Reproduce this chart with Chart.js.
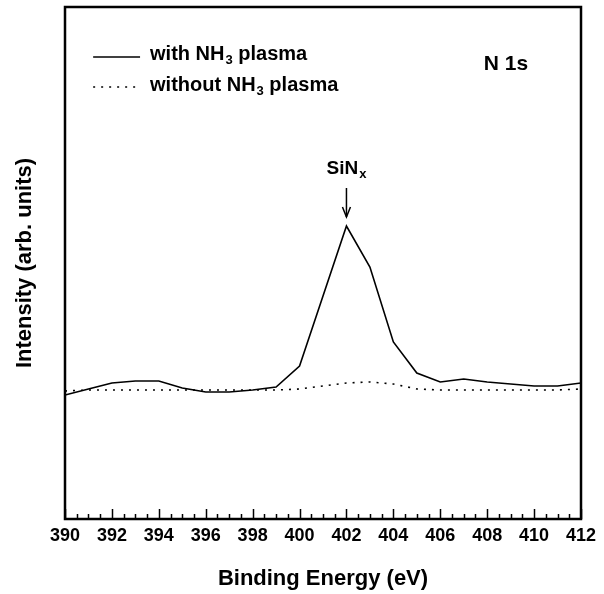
<!DOCTYPE html>
<html>
<head>
<meta charset="utf-8">
<script src="https://cdn.jsdelivr.net/npm/chart.js@4.4.1/dist/chart.umd.min.js"></script>
<style>
html,body{margin:0;padding:0;background:#fff;}
#wrap{width:604px;height:594px;}
</style>
</head>
<body>
<div id="wrap"><canvas id="c" width="604" height="594"></canvas></div>
<script>
// Data
const energies = [390,391,392,393,394,395,396,397,398,399,400,401,402,403,404,405,406,407,408,409,410,411,412];
const withNH3 = [124,130,136,138,138,131,127,127,129,132,153,223,293,252,177,146,137,140,137,135,133,133,136];
const withoutNH3 = [128,129,129,129,129,129,129,129,129,129,130,133,136,137,135,130,129,129,129,129,129,129,130];
const xTicks = [390,392,394,396,398,400,402,404,406,408,410,412];
const seriesNames = ['with NH', 'without NH'];
const FONT = "'Liberation Sans', Arial, sans-serif";

function pts(ys){ return energies.map((e,i)=>({x:e,y:ys[i]})); }

const overlay = {
  id:'overlay',
  afterDraw(chart){
    const {ctx, chartArea:a, scales:{x,y}} = chart;
    ctx.save();
    // frame
    ctx.strokeStyle='#000'; ctx.lineWidth=2.5;
    ctx.strokeRect(a.left, a.top, a.right-a.left, a.bottom-a.top);
    // inward ticks on bottom axis
    ctx.lineWidth=1.5;
    for(let v=390; v<=412.001; v+=0.5){
      const px = Math.round(x.getPixelForValue(v))+0.5;
      const major = Math.abs(v/2-Math.round(v/2))<1e-6;
      const len = major?10:5;
      ctx.beginPath(); ctx.moveTo(px,a.bottom); ctx.lineTo(px,a.bottom-len); ctx.stroke();
    }
    // legend
    ctx.fillStyle='#000';
    ctx.textBaseline='alphabetic';
    const lx0 = x.getPixelForValue(391.2), lx1 = x.getPixelForValue(393.2);
    const lineY = [y.getPixelForValue(519-57), y.getPixelForValue(519-87)];
    const baseY = [y.getPixelForValue(519-60), y.getPixelForValue(519-91)];
    for(let i=0;i<2;i++){
      ctx.beginPath();
      ctx.lineWidth=1.6;
      ctx.setLineDash(i===0?[]:[2,6]);
      ctx.moveTo(lx0,lineY[i]); ctx.lineTo(lx1,lineY[i]); ctx.stroke();
      ctx.setLineDash([]);
      let tx = lx1+10;
      const by = baseY[i];
      ctx.font = "bold 20px "+FONT;
      ctx.fillText(seriesNames[i], tx, by);
      tx += ctx.measureText(seriesNames[i]).width;
      ctx.font = "bold 13px "+FONT;
      ctx.fillText('3', tx+1, by+4);
      tx += ctx.measureText('3').width+1;
      ctx.font = "bold 20px "+FONT;
      ctx.fillText(' plasma', tx, by);
    }
    // N 1s
    ctx.textAlign='center';
    ctx.font = "bold 21px "+FONT;
    ctx.fillText('N 1s', x.getPixelForValue(408.8), y.getPixelForValue(519-70));
    // SiNx label
    const px = x.getPixelForValue(402);
    const peakY = y.getPixelForValue(293);
    ctx.textAlign='left';
    ctx.font = "bold 19px "+FONT;
    const w1 = ctx.measureText('SiN').width;
    ctx.font = "bold 13px "+FONT;
    const w2 = ctx.measureText('x').width;
    const sx = px - (w1+w2+1)/2;
    ctx.font = "bold 19px "+FONT;
    ctx.fillText('SiN', sx, peakY-52);
    ctx.font = "bold 13px "+FONT;
    ctx.fillText('x', sx+w1+1, peakY-48);
    // arrow
    ctx.lineWidth=1.5;
    ctx.beginPath(); ctx.moveTo(px, peakY-38); ctx.lineTo(px, peakY-9); ctx.stroke();
    ctx.beginPath(); ctx.moveTo(px-4, peakY-19); ctx.lineTo(px, peakY-9); ctx.lineTo(px+4, peakY-19); ctx.stroke();
    ctx.restore();
  }
};

new Chart(document.getElementById('c'), {
  type:'line',
  data:{
    datasets:[
      {label:'with NH3 plasma', data:pts(withNH3), borderColor:'#000', borderWidth:1.6, pointRadius:0, tension:0, fill:false},
      {label:'without NH3 plasma', data:pts(withoutNH3), borderColor:'#000', borderWidth:1.6, borderDash:[2,6], pointRadius:0, tension:0, fill:false}
    ]
  },
  options:{
    responsive:false, animation:false, devicePixelRatio:1,
    layout:{padding:{top:7,right:23,left:0,bottom:0}},
    plugins:{legend:{display:false}, tooltip:{enabled:false}},
    scales:{
      x:{
        type:'linear', min:390, max:412,
        afterBuildTicks(s){ s.ticks = xTicks.map(v=>({value:v})); },
        grid:{display:false, drawTicks:false},
        border:{display:false},
        ticks:{color:'#000', padding:6, maxRotation:0, autoSkip:false, font:{family:FONT, size:18, weight:'bold'}},
        title:{display:true, text:'Binding Energy (eV)', color:'#000', padding:{top:0,bottom:2}, font:{family:FONT, size:22, weight:'bold'}},
        afterFit(s){ s.height = 75; }
      },
      y:{
        min:0, max:512,
        grid:{display:false, drawTicks:false},
        border:{display:false},
        ticks:{display:false},
        title:{display:true, text:'Intensity (arb. units)', color:'#000', padding:{top:12,bottom:0}, font:{family:FONT, size:22, weight:'bold'}},
        afterFit(s){ s.width = 65; }
      }
    }
  },
  plugins:[overlay]
});
</script>
</body>
</html>
